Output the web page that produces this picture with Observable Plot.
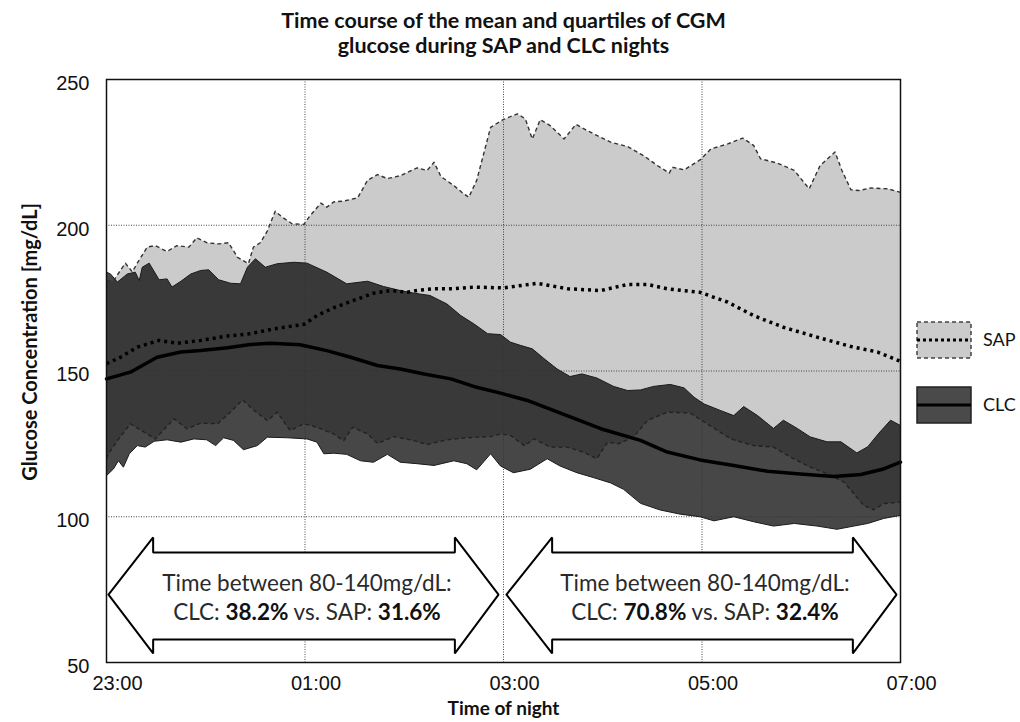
<!DOCTYPE html>
<html><head><meta charset="utf-8">
<script src="https://cdn.jsdelivr.net/npm/d3@7"></script>
<script src="https://cdn.jsdelivr.net/npm/@observablehq/plot@0.6"></script>
<style>
html,body{margin:0;padding:0;background:#fff;}
#wrap{position:relative;width:1020px;height:722px;overflow:hidden;}
#legend{position:absolute;left:905px;top:310px;}
</style></head><body><div id="wrap"></div>
<script>
// ---- axis ticks ----
const xTicks = [0, 2, 4, 6, 8];
const xTickLabels = ["23:00", "01:00", "03:00", "05:00", "07:00"];
const yTicks = [50, 100, 150, 200, 250];
const titleLines = ["Time course of the mean and quartiles of CGM", "glucose during SAP and CLC nights"];
const yLabel = "Glucose Concentration [mg/dL]";
const xLabel = "Time of night";

// ---- series: [hours after 23:00, mg/dL] ----
const sapUpper = [[0,181],[0.07,181],[0.19,187],[0.26,184],[0.31,187],[0.41,192.5],[0.49,193],[0.61,191],[0.71,193],[0.83,192.5],[0.91,195.7],[1.01,194],[1.13,193.6],[1.23,194],[1.32,189],[1.43,186.8],[1.48,192.5],[1.55,194],[1.62,198],[1.70,204.8],[1.77,202.8],[1.87,200.5],[1.99,200.3],[2.04,202.8],[2.16,207.6],[2.22,206.2],[2.29,208],[2.39,208.3],[2.53,209.4],[2.63,215.4],[2.73,217.4],[2.83,216],[2.96,217],[3.13,219.7],[3.23,218.8],[3.30,221.6],[3.37,216.7],[3.50,213.6],[3.58,211.3],[3.65,209.6],[3.73,215.4],[3.87,233.6],[4.00,236.3],[4.14,238.2],[4.22,236.5],[4.29,229.6],[4.37,236.2],[4.47,234.2],[4.61,229.6],[4.73,234.6],[4.83,232.7],[4.94,230.8],[5.08,228.5],[5.25,227],[5.41,223.9],[5.55,220.5],[5.67,217.9],[5.70,219.9],[5.82,219],[5.98,222.4],[6.09,226.2],[6.26,227.9],[6.41,229.9],[6.52,227.4],[6.59,222.8],[6.76,221.3],[6.93,218.8],[7.08,212.5],[7.19,220.5],[7.34,225.1],[7.41,218.8],[7.50,212.2],[7.58,211.9],[7.70,212.8],[7.87,212.5],[8,211.3]];
const sapMean = [[0,152.5],[0.14,154.7],[0.31,158.2],[0.53,160.5],[0.71,159.5],[0.95,160.5],[1.22,162],[1.45,162.8],[1.69,164.5],[1.99,166],[2.12,169],[2.29,171.7],[2.49,174.2],[2.69,176.7],[2.86,177.6],[3.03,177],[3.16,177.8],[3.30,178.2],[3.50,178.2],[3.70,178.8],[4.0,178.5],[4.34,180.1],[4.65,178.2],[4.98,177.6],[5.25,179.7],[5.45,179.7],[5.65,178.2],[5.98,177],[6.26,173.6],[6.52,169],[6.82,165],[7.16,161.6],[7.50,158.4],[7.77,156.5],[8,153.3]];
const sapLower = [[0,120],[0.02,121.6],[0.11,126.1],[0.24,131.9],[0.38,129],[0.49,126.7],[0.68,133.6],[0.81,130.2],[0.95,132.1],[1.12,131.9],[1.25,135.9],[1.37,140.1],[1.48,136.7],[1.62,133],[1.72,135.9],[1.85,129.6],[1.99,131.9],[2.12,130.7],[2.29,128.4],[2.39,126.1],[2.48,130.7],[2.63,128.4],[2.73,125.2],[2.90,127.5],[3.10,126.1],[3.23,124.8],[3.43,126.4],[3.63,127.1],[3.87,127.5],[3.97,128.4],[4.07,127.9],[4.21,124.4],[4.31,126.7],[4.47,123.9],[4.64,123.9],[4.81,122.1],[4.94,119.9],[5.05,125.6],[5.16,125],[5.31,127.4],[5.45,133],[5.65,135.9],[5.88,135.6],[6.05,131.9],[6.29,126.7],[6.52,124.4],[6.72,123.9],[6.89,120.5],[7.09,117],[7.26,114.8],[7.43,111.9],[7.53,107.9],[7.63,103.9],[7.73,102.4],[7.83,104.5],[8,105]];
const clcUpper = [[0,183.9],[0.04,183.3],[0.11,180.5],[0.21,183.3],[0.29,183.9],[0.33,181],[0.36,185.6],[0.43,187],[0.53,181.3],[0.61,181.6],[0.66,178.8],[0.75,180.8],[0.85,183.3],[0.95,184.5],[1.03,184.7],[1.13,181.3],[1.25,180.1],[1.35,179.9],[1.42,185.6],[1.50,188.5],[1.60,185.6],[1.72,186.8],[1.89,187.3],[2.02,187],[2.22,183.9],[2.42,179.9],[2.63,180.8],[2.79,179],[2.96,177.6],[3.10,176.7],[3.26,175.9],[3.43,173],[3.57,169],[3.70,166.2],[3.84,162.8],[3.97,162.5],[4.07,159.9],[4.17,158.8],[4.29,157.6],[4.41,154.2],[4.54,150.7],[4.67,148.1],[4.79,149],[4.94,147.6],[5.11,144.7],[5.25,143.3],[5.38,143.5],[5.51,144.7],[5.68,145.4],[5.82,144.2],[5.92,141],[6.02,138.7],[6.19,136.4],[6.32,134.7],[6.42,137.8],[6.56,134.7],[6.72,130.3],[6.82,133.1],[6.96,130.3],[7.09,127.4],[7.26,125.7],[7.40,125.7],[7.56,121.9],[7.67,124],[7.78,128.6],[7.90,133.1],[8,131.3]];
const clcMean = [[0,147.3],[0.24,149.6],[0.51,154.7],[0.75,156.5],[0.95,157],[1.22,158],[1.45,159.1],[1.65,159.5],[1.95,159],[2.22,157],[2.46,154.7],[2.73,151.9],[2.96,150.7],[3.20,149],[3.47,147.3],[3.73,144.4],[3.97,142.4],[4.24,139.9],[4.64,134.7],[4.98,130.2],[5.38,126.2],[5.65,122.2],[5.98,119.5],[6.32,117.6],[6.66,115.6],[6.99,114.7],[7.33,113.8],[7.60,114.5],[7.83,116.4],[8,118.7]];
const clcLower = [[0,114.1],[0.07,116.4],[0.12,119.2],[0.17,117],[0.23,121.6],[0.31,124.4],[0.39,123.9],[0.48,125.9],[0.61,126.4],[0.75,125.6],[0.88,126.7],[1.01,126.4],[1.10,124.4],[1.18,127.1],[1.28,126.2],[1.38,123],[1.52,124.4],[1.62,127.3],[1.82,127.1],[2.02,126.7],[2.12,125.6],[2.19,121.6],[2.29,121.8],[2.42,121.4],[2.56,119.2],[2.69,118.7],[2.83,121.4],[2.96,118.7],[3.13,118.2],[3.30,117.6],[3.50,119.2],[3.63,118.2],[3.73,116.1],[3.87,121.6],[3.97,117.4],[4.10,115.1],[4.27,116.3],[4.44,119.9],[4.57,117.4],[4.74,115.1],[4.91,113.4],[5.08,111.6],[5.21,109.4],[5.38,104.6],[5.58,102.3],[5.78,100.9],[5.98,100],[6.12,98.6],[6.32,100],[6.52,98.3],[6.72,96.8],[6.93,97.7],[7.16,96.8],[7.36,95.7],[7.53,96.8],[7.67,97.7],[7.83,99.4],[8,100.5]];

// ---- annotation texts ----
const rangeText = "Time between 80-140mg/dL:";
const arrowCenters = [2.02, 6.03];
const clcPct = ["38.2%", "70.8%"];
const sapPct = ["31.6%", "32.4%"];
// arrows: [left tip, left head base, right head base, right tip] in hours
const arrowSpans = [[0.02, 0.47, 3.51, 3.95], [4.03, 4.49, 7.52, 7.96]];

// ---- derived tables ----
const pts = s => s.map(([t, v]) => ({t, v}));
const band = (up, lo) => [...pts(up), ...pts(lo).reverse()];
const yMid = 73.3, yHeadTop = 92.9, yHeadBot = 53.1, yShaftTop = 87.7, yShaftBot = 57.9;
const arrowPoly = ([a, b, c, d]) => [
  {t:a, v:yMid}, {t:b, v:yHeadTop}, {t:b, v:yShaftTop}, {t:c, v:yShaftTop}, {t:c, v:yHeadTop},
  {t:d, v:yMid}, {t:c, v:yHeadBot}, {t:c, v:yShaftBot}, {t:b, v:yShaftBot}, {t:b, v:yHeadBot}, {t:a, v:yMid}
];
const arrowData = arrowSpans.flatMap((s, i) => arrowPoly(s).map(p => ({...p, k: i})));
const pctRows = arrowCenters.map((c, i) => ({c, text: `CLC: ${clcPct[i]} vs. SAP: ${sapPct[i]}`}));

const calibri = "Lato, 'Open Sans', sans-serif";

const svg = Plot.plot({
  width: 1020, height: 722,
  marginLeft: 106, marginRight: 120, marginTop: 79, marginBottom: 60,
  style: {fontFamily: "'Liberation Sans', Arial, sans-serif", fontSize: "20px", color: "#111", background: "#fff", overflow: "visible"},
  x: {domain: [0, 8]},
  y: {domain: [50, 250]},
  marks: [
    Plot.line(band(sapUpper, sapLower), {x: "t", y: "v", fill: "#cbcbcb", stroke: "none"}),
    Plot.line(band(clcUpper, clcLower), {x: "t", y: "v", fill: "#000", fillOpacity: 0.72, stroke: "none"}),
    Plot.gridX({ticks: [2, 4, 6], stroke: "#333", strokeOpacity: 0.9, strokeDasharray: "1,1.5", strokeWidth: 1}),
    Plot.gridY({ticks: [100, 150, 200], stroke: "#333", strokeOpacity: 0.9, strokeDasharray: "1,1.5", strokeWidth: 1}),
    Plot.line(pts(clcUpper), {x: "t", y: "v", stroke: "#1a1a1a", strokeWidth: 1}),
    Plot.line(pts(clcLower), {x: "t", y: "v", stroke: "#1a1a1a", strokeWidth: 1}),
    Plot.line(pts(sapUpper), {x: "t", y: "v", stroke: "#333", strokeWidth: 1.4, strokeDasharray: "4,3", strokeLinecap: "butt"}),
    Plot.line(pts(sapLower), {x: "t", y: "v", stroke: "#222", strokeWidth: 1.4, strokeDasharray: "4,3", strokeLinecap: "butt"}),
    Plot.line(pts(sapMean), {x: "t", y: "v", stroke: "#000", strokeWidth: 3.5, strokeDasharray: "3,4", strokeLinecap: "butt"}),
    Plot.line(pts(clcMean), {x: "t", y: "v", stroke: "#000", strokeWidth: 3.5}),
    Plot.line(arrowData, {x: "t", y: "v", z: "k", fill: "#fff", stroke: "#000", strokeWidth: 2, strokeLinejoin: "miter", curve: "linear"}),
    Plot.text(arrowCenters, {x: d => d, y: () => 77, text: () => rangeText, fontFamily: calibri, fontSize: 22.5, fill: "#2a2a2a"}),
    Plot.text(pctRows, {x: "c", y: () => 67, text: "text", fontFamily: calibri, fontSize: 22.5, fill: "#2a2a2a"}),
    Plot.frame({stroke: "#111", strokeWidth: 1.5}),
    Plot.axisX({ticks: xTicks, tickFormat: d => xTickLabels[xTicks.indexOf(d)], tickSize: 0, tickPadding: 13, dx: 11, label: null, fontSize: 20}),
    Plot.axisY({ticks: yTicks, tickSize: 0, tickPadding: 17, dy: 4, label: null, fontSize: 20}),
    Plot.text([yLabel], {x: () => 0, y: () => 160, dx: -76, rotate: -90, textAnchor: "middle", lineAnchor: "middle", text: d => d, fontFamily: calibri, fontWeight: "bold", fontSize: 20, fill: "#111"}),
    Plot.text([xLabel], {frameAnchor: "bottom", dy: 46, lineAnchor: "middle", text: d => d, fontFamily: calibri, fontWeight: "bold", fontSize: 19, fill: "#111"}),
    Plot.text([titleLines[0]], {frameAnchor: "top", dy: -58, lineAnchor: "middle", text: d => d, fontFamily: calibri, fontWeight: "bold", fontSize: 21.5, fill: "#111"}),
    Plot.text([titleLines[1]], {frameAnchor: "top", dy: -33, lineAnchor: "middle", text: d => d, fontFamily: calibri, fontWeight: "bold", fontSize: 21.5, fill: "#111"})
  ]
});

// bold percentages inside arrow texts
d3.select(svg).selectAll("text").each(function () {
  const m = this.textContent.match(/^CLC: (\S+) vs\. SAP: (\S+)$/);
  if (!m) return;
  const t = d3.select(this);
  t.text(null);
  t.append("tspan").text("CLC: ");
  t.append("tspan").attr("font-weight", "bold").attr("fill", "#111").text(m[1]);
  t.append("tspan").text(" vs. SAP: ");
  t.append("tspan").attr("font-weight", "bold").attr("fill", "#111").text(m[2]);
});

const wrap = document.getElementById("wrap");
wrap.appendChild(svg);

// legend
const legend = document.createElement("div");
legend.id = "legend";
legend.innerHTML = `
<svg width="115" height="125" style="font-family:Lato,'Open Sans',sans-serif;font-size:18px">
  <rect x="12" y="12" width="54" height="36" fill="#cbcbcb" stroke="#444" stroke-width="1.5" stroke-dasharray="4,3"/>
  <line x1="12" x2="66" y1="30" y2="30" stroke="#000" stroke-width="3" stroke-dasharray="3,3"/>
  <text x="78" y="30" dy="0.35em" fill="#111">SAP</text>
  <rect x="12" y="77" width="54" height="36" fill="#4a4a4a" stroke="#222" stroke-width="1.5"/>
  <line x1="12" x2="66" y1="95" y2="95" stroke="#000" stroke-width="3"/>
  <text x="78" y="95" dy="0.35em" fill="#111">CLC</text>
</svg>`;
wrap.appendChild(legend);
</script>
</body></html>
